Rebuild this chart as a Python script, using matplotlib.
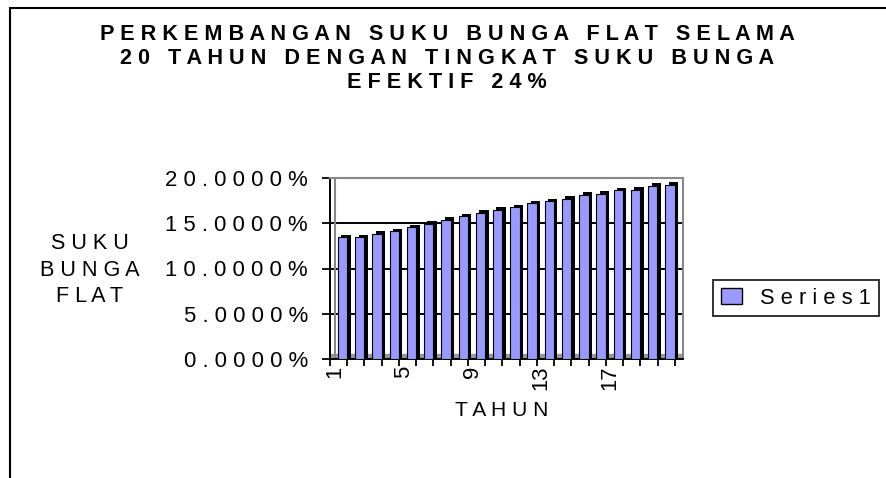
import numpy as np
import matplotlib.pyplot as plt
from matplotlib.patches import Rectangle

plt.rcParams['font.family'] = ['Liberation Sans', 'DejaVu Sans']

# data
tahun = list(range(1, 21))
suku_bunga_flat = [13.45, 13.45, 13.80, 14.10, 14.55, 14.90, 15.38, 15.75, 16.12, 16.50,
                   16.75, 17.20, 17.42, 17.72, 18.10, 18.28, 18.62, 18.72, 19.10, 19.28]
yticks = [0, 5, 10, 15, 20]
xtick_labels = ['1', '5', '9', '13', '17']

title = 'PERKEMBANGAN SUKU BUNGA FLAT SELAMA\n20 TAHUN DENGAN TINGKAT SUKU BUNGA\nEFEKTIF 24%'


def spaced(s, sep=' '):
    # Excel-style wide letter spacing
    return '\n'.join(sep.join(line) for line in s.split('\n'))


fig = plt.figure(figsize=(8.87, 4.78), dpi=100)
renderer = fig.canvas.get_renderer()


def fit_size(s, width_px, **kw):
    # font size that makes the text block width_px wide
    t = fig.text(0, 0, s, fontsize=10, **kw)
    w = t.get_window_extent(renderer=renderer).width
    t.remove()
    return 10 * width_px / w


# outer chart frame
fig.patches.append(Rectangle((10 / 887, -0.05), 1.2, 1 - 8 / 478 + 0.05,
                             transform=fig.transFigure, fill=False,
                             edgecolor='black', linewidth=1.5))

ax = fig.add_axes([330 / 887, 119 / 478, 353 / 887, 181 / 478])

x = np.array(tahun)
# floor of the 3D chart
ax.axhspan(0, 0.5, color='#999999', zorder=1)
ax.axvline(0.55, color='#888888', linewidth=1.5, zorder=1)
# dark side/top of the 3D columns
ax.bar(x + 0.2, np.array(suku_bunga_flat) + 0.3, width=0.54, color='black', zorder=2)
ax.bar(x, suku_bunga_flat, width=0.54, color='#9999FF', edgecolor='black',
       linewidth=0.8, zorder=3)

tick_fs = fit_size(spaced('20.0000%'), 143)
ax.set_xlim(0.275, 20.75)
ax.set_ylim(0, 20)
ax.set_yticks(yticks)
ax.set_yticklabels([spaced(f'{v:.4f}%') for v in yticks], fontsize=tick_fs)
ax.yaxis.grid(True, color='black', linewidth=1.4)
ax.set_axisbelow(True)

ax.set_xticks(np.arange(21) + 0.275)
ax.set_xticklabels([])
ax.tick_params(axis='x', direction='out', length=5, width=1.3, color='black')
ax.tick_params(axis='y', direction='out', length=6, width=1.3, pad=10, color='black')
for lab in xtick_labels:
    ax.text(int(lab) - 0.47, -0.7, lab, rotation=90, ha='center', va='top', fontsize=tick_fs)

for side in ['top', 'right']:
    ax.spines[side].set_color('#888888')
    ax.spines[side].set_linewidth(1.5)
ax.spines['left'].set_linewidth(1.4)
ax.spines['bottom'].set_linewidth(1.4)

title_txt = spaced(title)
title_fs = fit_size(title_txt, 691, fontweight='bold')
fig.text(447 / 887, 1 - 24 / 478, title_txt, ha='center', va='top',
         fontsize=title_fs, fontweight='bold', linespacing=1.2)

ylab = spaced('SUKU\nBUNGA\nFLAT')
fig.text(90 / 887, 1 - 270 / 478, ylab, ha='center', va='center',
         fontsize=fit_size(ylab, 100), linespacing=1.32)
xlab = spaced('TAHUN')
fig.text(502 / 887, 1 - 410 / 478, xlab, ha='center', va='center',
         fontsize=fit_size(xlab, 93))

# legend box
leg_txt = spaced('Series1')
leg_fs = fit_size(leg_txt, 111)
leg = fig.legend([Rectangle((0, 0), 1, 1, facecolor='#9999FF', edgecolor='black')],
                 [leg_txt], loc='center', bbox_to_anchor=(796 / 887, 1 - 298 / 478),
                 fontsize=leg_fs, frameon=True, fancybox=False, handlelength=0.95,
                 handleheight=0.7, handletextpad=0.85, borderpad=0.35, borderaxespad=0)
leg.get_frame().set_edgecolor('black')
leg.get_frame().set_linewidth(1.4)

fig.savefig('out.png', dpi=100)
